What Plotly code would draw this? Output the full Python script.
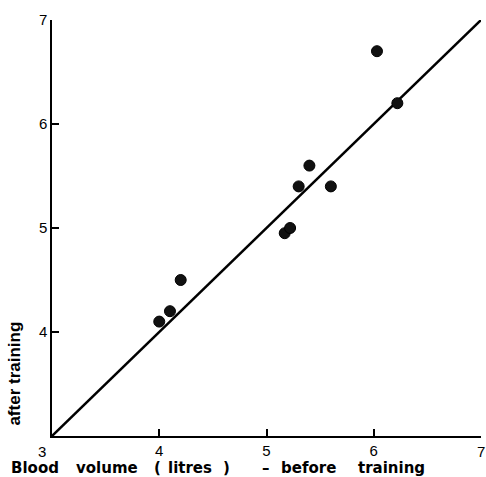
import plotly.graph_objects as go

before = [4.0, 4.1, 4.2, 5.17, 5.22, 5.3, 5.4, 5.6, 6.03, 6.22]
after = [4.1, 4.2, 4.5, 4.95, 5.0, 5.4, 5.6, 5.4, 6.7, 6.2]
line_x = [3, 7]
line_y = [3, 7]
x_ticks = [3, 4, 5, 6, 7]
x_tick_text = ["", "4", "5", "6", ""]
y_ticks = [4, 5, 6, 7]
title_words = ["Blood", "volume", "(", "litres", ")", "–", "before", "training"]
title_word_px = [10, 75, 153, 167, 222, 261, 280, 357]

W, H = 486, 477
L, R, T, B = 52, 5, 20, 41
PW, PH = W - L - R, H - T - B

def px_to_paper_x(px):
    return (px - L) / PW

def py_to_paper_y(py):
    return (H - B - py) / PH

fig = go.Figure()
fig.add_trace(go.Scatter(x=line_x, y=line_y, mode="lines",
                         line=dict(color="black", width=2.5), showlegend=False))
fig.add_trace(go.Scatter(x=before, y=after, mode="markers",
                         marker=dict(color="#111", size=11, line=dict(color="black", width=1)),
                         showlegend=False))

font = "Liberation Sans, Arial, sans-serif"
tfont = "DejaVu Sans, sans-serif"
annotations = []
for word, px in zip(title_words, title_word_px):
    annotations.append(dict(text="<b>" + word + "</b>", xref="paper", yref="paper",
                            x=px_to_paper_x(px), y=py_to_paper_y(478),
                            xanchor="left", yanchor="bottom", showarrow=False,
                            borderpad=0, font=dict(size=15, family=tfont)))
annotations.append(dict(text="<b>after training</b>", textangle=-90,
                        xref="paper", yref="y", x=px_to_paper_x(15), y=3.6,
                        xanchor="center", yanchor="middle", showarrow=False,
                        font=dict(size=17, family=font)))
annotations.append(dict(text="3", xref="paper", yref="paper",
                        x=px_to_paper_x(42), y=py_to_paper_y(442),
                        xanchor="center", yanchor="top", showarrow=False,
                        borderpad=0, font=dict(size=15, family=font)))
annotations.append(dict(text="7", xref="x", yref="paper",
                        x=7, y=py_to_paper_y(442),
                        xanchor="center", yanchor="top", showarrow=False,
                        borderpad=0, font=dict(size=15, family=font)))

fig.update_layout(
    width=W, height=H,
    margin=dict(l=L, r=R, t=T, b=B),
    plot_bgcolor="white", paper_bgcolor="white",
    font=dict(family=font, color="black", size=14),
    xaxis=dict(range=[3, 7], tickvals=x_ticks, ticktext=x_tick_text, ticks="inside", ticklen=7,
               tickcolor="black", tickwidth=1.5, showline=True, linecolor="black",
               linewidth=2, showgrid=False, zeroline=False,
               tickfont=dict(size=15)),
    yaxis=dict(range=[3, 7], tickvals=y_ticks, ticks="inside", ticklen=7,
               tickcolor="black", tickwidth=1.5, showline=True, linecolor="black",
               linewidth=1.5, showgrid=False, zeroline=False,
               tickfont=dict(size=15)),
    annotations=annotations,
)

fig.write_html("out.html")
